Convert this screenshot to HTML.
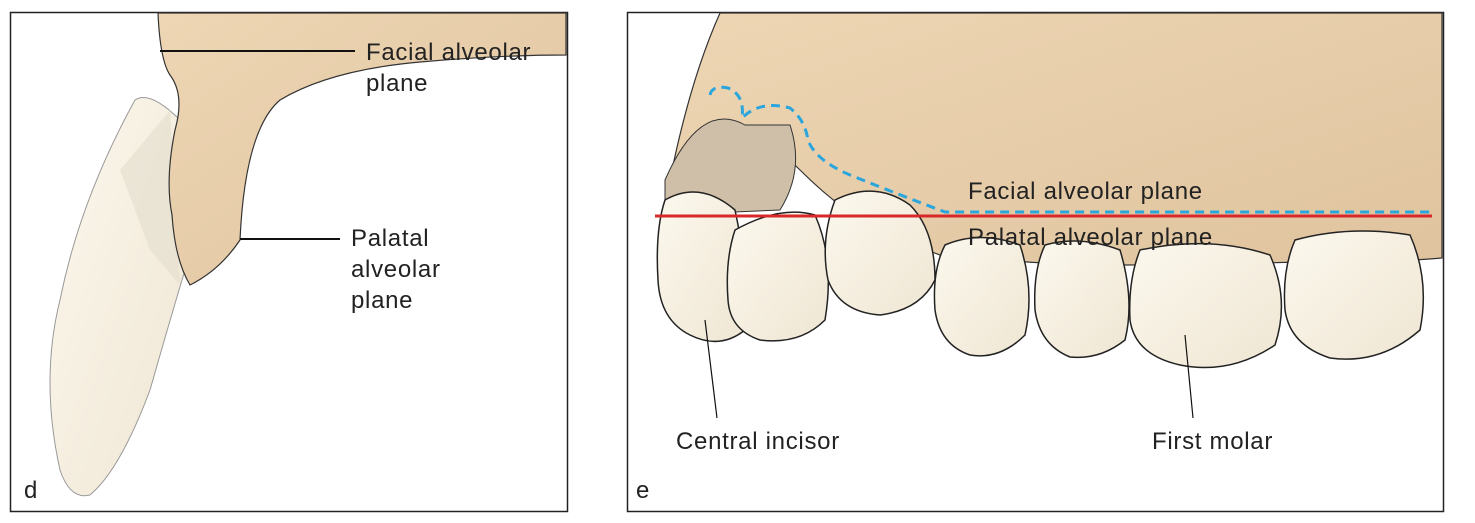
<!DOCTYPE html>
<html><head><style>
body{margin:0;background:#fff;}
svg{display:block;font-family:"Liberation Sans",sans-serif;}
text{font-size:24px;letter-spacing:0.7px;fill:#222;}
</style></head><body>
<svg width="1475" height="523" viewBox="0 0 1475 523">
<defs>
<linearGradient id="bone" x1="0" y1="0" x2="1" y2="1">
<stop offset="0" stop-color="#eed6b4"/><stop offset="1" stop-color="#dfc39e"/></linearGradient>
<linearGradient id="tooth" x1="0" y1="0" x2="1" y2="1">
<stop offset="0" stop-color="#fcf8ee"/><stop offset="1" stop-color="#efe6d3"/></linearGradient>
</defs>
<!-- panel d -->
<rect x="10.5" y="12.5" width="557" height="499" fill="#fff" stroke="#222" stroke-width="1.5"/>
<path d="M135 100 Q150 90 180 120 L185 270 Q170 320 150 390 Q120 470 90 495 Q70 500 60 470 Q40 380 60 300 Q80 200 135 100Z" fill="url(#tooth)" stroke="#999" stroke-width="1"/>
<path d="M120 170 L170 110 L180 285 L150 250 Z" fill="#e6e0d0" opacity="0.7"/>
<path d="M158 13 L566 13 L566 55 Q500 55 420 62 Q330 70 280 100 Q245 130 240 240 Q220 270 190 285 Q175 260 172 215 Q165 180 175 130 Q185 95 170 75 Q160 60 158 13Z" fill="url(#bone)" stroke="#333" stroke-width="1.2"/>
<line x1="160" y1="51" x2="355" y2="51" stroke="#111" stroke-width="2"/>
<line x1="240" y1="239" x2="340" y2="239" stroke="#111" stroke-width="2"/>
<text x="366" y="60">Facial alveolar</text>
<text x="366" y="91">plane</text>
<text x="351" y="246">Palatal</text>
<text x="351" y="277">alveolar</text>
<text x="351" y="308">plane</text>
<text x="24" y="498">d</text>
<!-- panel e -->
<rect x="627.5" y="12.5" width="816" height="499" fill="#fff" stroke="#222" stroke-width="1.5"/>
<path d="M720 13 L1442 13 L1442 258 Q1400 262 1300 262 Q1200 265 1100 265 Q1000 262 940 255 L900 240 Q850 220 800 170 Q770 140 740 125 Q700 160 670 180 Q690 80 720 13Z" fill="url(#bone)" stroke="#333" stroke-width="1.2"/>
<path d="M665 180 Q700 100 745 125 L790 125 Q805 170 780 210 L665 215Z" fill="#cfbfa8" stroke="#333"/>
<g fill="url(#tooth)" stroke="#222" stroke-width="1.5">
<path d="M665 200 Q700 180 735 210 Q750 280 745 330 Q720 350 690 335 Q660 320 658 280 Q655 230 665 200Z"/>
<path d="M735 230 Q780 205 815 215 Q835 260 825 320 Q800 345 760 340 Q730 330 728 300 Q725 260 735 230Z"/>
<path d="M835 200 Q875 180 910 205 Q935 230 935 280 Q920 310 880 315 Q840 312 828 280 Q820 240 835 200Z"/>
<path d="M945 245 Q980 230 1020 245 Q1035 290 1025 335 Q1000 360 970 355 Q940 345 935 310 Q932 270 945 245Z"/>
<path d="M1045 245 Q1080 235 1120 250 Q1135 300 1125 340 Q1100 360 1070 357 Q1040 345 1035 310 Q1033 270 1045 245Z"/>
<path d="M1140 250 Q1210 235 1270 255 Q1290 300 1275 345 Q1230 375 1180 365 Q1135 355 1130 320 Q1128 280 1140 250Z"/>
<path d="M1295 240 Q1350 225 1410 235 Q1430 280 1420 330 Q1380 365 1330 358 Q1290 345 1285 310 Q1282 270 1295 240Z"/>
</g>
<line x1="655" y1="216" x2="1432" y2="216" stroke="#d8282a" stroke-width="3"/>
<path d="M710 95 Q712 85 728 88 Q745 95 742 118 Q760 100 790 108 Q805 120 808 140 Q815 160 850 175 Q900 195 945 212 L1432 212" fill="none" stroke="#2aa6dc" stroke-width="3" stroke-dasharray="9,6"/>
<line x1="705" y1="320" x2="717" y2="418" stroke="#111" stroke-width="1.2"/>
<line x1="1185" y1="335" x2="1193" y2="418" stroke="#111" stroke-width="1.2"/>
<text x="968" y="199">Facial alveolar plane</text>
<text x="968" y="245">Palatal alveolar plane</text>
<text x="676" y="449">Central incisor</text>
<text x="1152" y="449">First molar</text>
<text x="636" y="498">e</text>
</svg>
</body></html>
